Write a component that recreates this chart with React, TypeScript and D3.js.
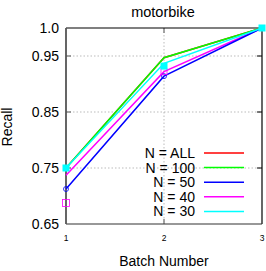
import React from "react";
import * as d3 from "d3";

const batches = [1, 2, 3];
const seriesNames = ["N = ALL", "N = 100", "N = 50", "N = 40", "N = 30"];
const seriesColors = ["#ff0000", "#00ff00", "#0000ff", "#ff00ff", "#00ffff"];
const valuesAll = [0.75, 0.947, 1.0];
const values100 = [0.75, 0.947, 1.0];
const values50 = [0.7125, 0.914, 1.0];
const values40 = [0.737, 0.922, 1.0];
const values30 = [0.75, 0.937, 1.0];
const seriesValues = [valuesAll, values100, values50, values40, values30];
const yTicks = [0.65, 0.75, 0.85, 0.95, 1.0];
const yTickLabels = ["0.65", "0.75", "0.85", "0.95", "1.0"];
const gridY = [0.75, 0.85, 0.95];
const xTicks = [1, 2, 3];

export default function App() {
  const W = 266, H = 271;
  const left = 66, right = 262, top = 28, bottom = 224;
  const x = d3.scaleLinear().domain([1, 3]).range([left, right]);
  const y = d3.scaleLinear().domain([0.65, 1.0]).range([bottom, top]);
  const line = d3.line<number>().x((_, i) => x(batches[i])).y((d) => y(d));
  const font = "Liberation Sans, Arial, sans-serif";
  const order = [0, 1, 3, 2, 4];
  return (
    <svg width={W} height={H} style={{ position: "absolute", left: 0, top: 0 }} fontFamily={font}>
      <rect width={W} height={H} fill="#fff" />
      {gridY.map((v) => (
        <line key={v} x1={left} x2={right} y1={y(v)} y2={y(v)} stroke="#aaa" strokeWidth={0.8} strokeDasharray="1.5,2" />
      ))}
      <line x1={x(2)} x2={x(2)} y1={top} y2={bottom} stroke="#aaa" strokeWidth={0.8} strokeDasharray="1.5,2" />
      {gridY.map((v) => (
        <line key={"rt" + v} x1={right - 5} x2={right} y1={y(v)} y2={y(v)} stroke="#000" strokeWidth={1} />
      ))}
      {gridY.map((v) => (
        <line key={"lt" + v} x1={left} x2={left + 5} y1={y(v)} y2={y(v)} stroke="#555" strokeWidth={1} />
      ))}
      <line x1={x(2)} x2={x(2)} y1={top} y2={top + 5} stroke="#888" strokeWidth={1.5} />
      <line x1={x(2)} x2={x(2)} y1={bottom} y2={bottom - 5} stroke="#888" strokeWidth={1.5} />
      <line x1={left} x2={right} y1={top} y2={top} stroke="#000" strokeWidth={1.2} />
      <line x1={right} x2={right} y1={top} y2={bottom} stroke="#000" strokeWidth={1.2} />
      <line x1={left} x2={right} y1={bottom} y2={bottom} stroke="#333" strokeWidth={1.2} />
      <line x1={left} x2={left} y1={top} y2={bottom} stroke="#555" strokeWidth={1.8} />
      {order.map((si) => (
        <path key={si} d={line(seriesValues[si]) || ""} fill="none" stroke={seriesColors[si]} strokeWidth={1.5} />
      ))}
      {/* markers */}
      <circle cx={x(1)} cy={y(values50[0])} r={2.5} fill="none" stroke="#0000ff" strokeWidth={0.8} />
      <rect x={x(1) - 3.5} y={y(0.6875) - 3.5} width={7} height={7} fill="none" stroke="#ff00ff" strokeWidth={0.8} />
      <circle cx={x(2)} cy={y(values50[1])} r={2.5} fill="none" stroke="#0000ff" strokeWidth={0.8} />
      <rect x={x(2) - 3} y={y(values40[1]) - 3} width={6} height={6} fill="none" stroke="#ff00ff" strokeWidth={0.8} />
      {[0, 1, 2].map((i) => (
        <rect key={"c" + i} x={x(batches[i]) - 3.5} y={y(i === 1 ? 0.932 : values30[i]) - 3.5} width={7} height={7} fill="#00ffff" />
      ))}
      {yTicks.map((v, i) => (
        <text key={v} x={left - 7} y={y(v)} dy="0.35em" textAnchor="end" fontSize={14} fill="#000">{yTickLabels[i]}</text>
      ))}
      {xTicks.map((v) => (
        <text key={v} x={x(v)} y={241} textAnchor="middle" fontSize={8.5} fill="#000">{v}</text>
      ))}
      <text x={163} y={17} textAnchor="middle" fontSize={14.5} fill="#000">motorbike</text>
      <text x={164} y={266} textAnchor="middle" fontSize={14} fill="#000">Batch Number</text>
      <text transform={`translate(12,127) rotate(-90)`} textAnchor="middle" fontSize={14} fill="#000">Recall</text>
      {seriesNames.map((n, i) => {
        const ly = 153 + i * 14.6;
        return (
          <g key={n}>
            <text x={195} y={ly} dy="0.35em" textAnchor="end" fontSize={14} fill="#000">{n}</text>
            <line x1={204} x2={244} y1={ly} y2={ly} stroke={seriesColors[i]} strokeWidth={1.5} />
          </g>
        );
      })}
    </svg>
  );
}
